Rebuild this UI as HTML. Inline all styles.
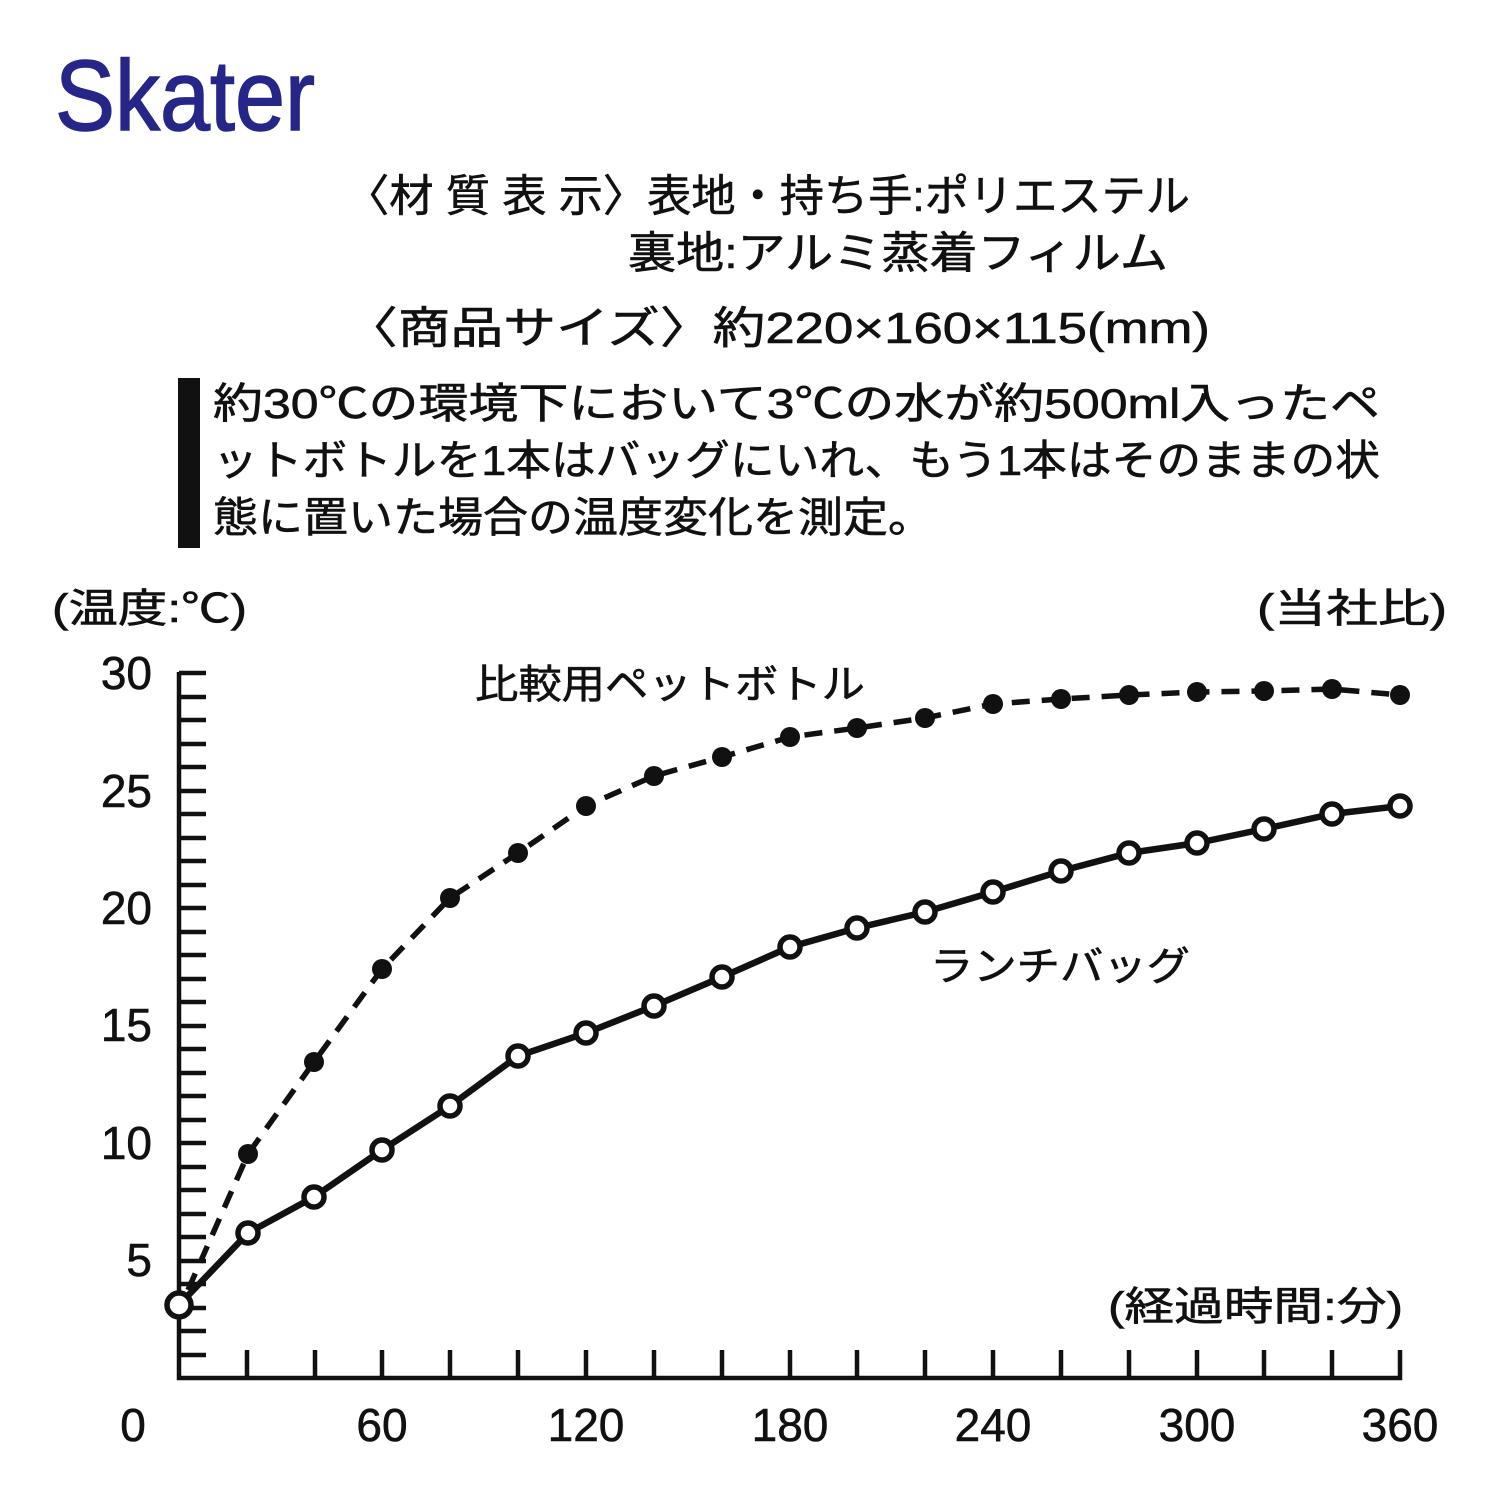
<!DOCTYPE html>
<html><head><meta charset="utf-8"><style>
html,body{margin:0;padding:0;background:#fff;}
svg{display:block;}
text{font-family:"Liberation Sans","Noto Sans CJK JP",sans-serif;fill:#111;}
</style></head><body>
<svg width="1500" height="1500" viewBox="0 0 1500 1500" xmlns="http://www.w3.org/2000/svg">
<text x="55" y="130" font-size="100" style="fill:#262688;stroke:#262688;stroke-width:1.5" textLength="260" lengthAdjust="spacingAndGlyphs">Skater</text>
<g style="stroke:#111;stroke-width:0.6">
<text x="345" y="211" font-size="44" textLength="845" lengthAdjust="spacingAndGlyphs">〈材 質 表 示〉表地・持ち手:ポリエステル</text>
<text x="628" y="268" font-size="44" textLength="540" lengthAdjust="spacingAndGlyphs">裏地:アルミ蒸着フィルム</text>
<text x="345" y="343" font-size="44" textLength="865" lengthAdjust="spacingAndGlyphs">〈商品サイズ〉約220×160×115(mm)</text>
<text x="213" y="418" font-size="42" textLength="1167" lengthAdjust="spacingAndGlyphs">約30℃の環境下において3℃の水が約500ml入ったペ</text>
<text x="213" y="475" font-size="42" textLength="1167" lengthAdjust="spacingAndGlyphs">ットボトルを1本はバッグにいれ、もう1本はそのままの状</text>
<text x="213" y="532" font-size="42" textLength="720" lengthAdjust="spacingAndGlyphs">態に置いた場合の温度変化を測定。</text>
<text x="52" y="622" font-size="40" textLength="195" lengthAdjust="spacingAndGlyphs">(温度:℃)</text>
<text x="1257" y="622" font-size="40" textLength="190" lengthAdjust="spacingAndGlyphs">(当社比)</text>
<text x="1108" y="1320" font-size="40" textLength="295" lengthAdjust="spacingAndGlyphs">(経過時間:分)</text>
<text x="475" y="698" font-size="40" textLength="390" lengthAdjust="spacingAndGlyphs">比較用ペットボトル</text>
<text x="930" y="980" font-size="40" textLength="260" lengthAdjust="spacingAndGlyphs">ランチバッグ</text>
</g>
<rect x="178" y="378" width="22" height="170" fill="#111"/>
<g font-size="46" text-anchor="end" style="stroke:#111;stroke-width:0.6">
<text x="152" y="689">30</text><text x="152" y="807">25</text><text x="152" y="924">20</text>
<text x="152" y="1041">15</text><text x="152" y="1159">10</text><text x="152" y="1276">5</text>
</g>
<g font-size="46" text-anchor="middle" style="stroke:#111;stroke-width:0.6">
<text x="133" y="1441">0</text><text x="382" y="1441">60</text><text x="586" y="1441">120</text>
<text x="790" y="1441">180</text><text x="993" y="1441">240</text><text x="1197" y="1441">300</text><text x="1400" y="1441">360</text>
</g>
<g stroke="#111" stroke-width="4.5" fill="none">
<path d="M179,672 V1378 H1400 V1350"/>
<path d="M179,673h27M179,697h27M179,720h27M179,744h27M179,767h27M179,791h27M179,814h27M179,838h27M179,861h27M179,885h27M179,908h27M179,932h27M179,955h27M179,979h27M179,1002h27M179,1026h27M179,1049h27M179,1073h27M179,1096h27M179,1120h27M179,1143h27M179,1167h27M179,1190h27M179,1214h27M179,1237h27M179,1261h27M179,1284h27M179,1308h27M179,1331h27M179,1355h27"/>
<path d="M247,1378v-28M315,1378v-28M382,1378v-28M450,1378v-28M518,1378v-28M586,1378v-28M654,1378v-28M722,1378v-28M790,1378v-28M857,1378v-28M925,1378v-28M993,1378v-28M1061,1378v-28M1129,1378v-28M1197,1378v-28M1264,1378v-28M1332,1378v-28"/>
</g>
<polyline fill="none" stroke="#111" stroke-width="5.5" stroke-dasharray="18,12" points="188,1290 248,1154 314,1062 382,969 450,898 518,853 586,806 654,776 722,757 790,737 857,728 925,718 993,704 1061,699 1129,695 1197,692 1264,691 1332,689 1400,695"/>
<g fill="#111">
<circle cx="248" cy="1154" r="10"/><circle cx="314" cy="1062" r="10"/><circle cx="382" cy="969" r="10"/><circle cx="450" cy="898" r="10"/><circle cx="518" cy="853" r="10"/><circle cx="586" cy="806" r="10"/><circle cx="654" cy="776" r="10"/><circle cx="722" cy="757" r="10"/><circle cx="790" cy="737" r="10"/><circle cx="857" cy="728" r="10"/><circle cx="925" cy="718" r="10"/><circle cx="993" cy="704" r="10"/><circle cx="1061" cy="699" r="10"/><circle cx="1129" cy="695" r="10"/><circle cx="1197" cy="692" r="10"/><circle cx="1264" cy="691" r="10"/><circle cx="1332" cy="689" r="10"/><circle cx="1400" cy="695" r="10"/>
</g>
<polyline fill="none" stroke="#111" stroke-width="6.5" points="179,1305 248,1233 314,1197 382,1150 450,1106 518,1056 586,1033 654,1006 722,977 790,947 857,928 925,912 993,892 1061,871 1129,853 1197,843 1264,829 1332,814 1400,806"/>
<g fill="#fff" stroke="#111" stroke-width="5.5">
<circle cx="179" cy="1305" r="12"/><circle cx="248" cy="1233" r="10"/><circle cx="314" cy="1197" r="10"/><circle cx="382" cy="1150" r="10"/><circle cx="450" cy="1106" r="10"/><circle cx="518" cy="1056" r="10"/><circle cx="586" cy="1033" r="10"/><circle cx="654" cy="1006" r="10"/><circle cx="722" cy="977" r="10"/><circle cx="790" cy="947" r="10"/><circle cx="857" cy="928" r="10"/><circle cx="925" cy="912" r="10"/><circle cx="993" cy="892" r="10"/><circle cx="1061" cy="871" r="10"/><circle cx="1129" cy="853" r="10"/><circle cx="1197" cy="843" r="10"/><circle cx="1264" cy="829" r="10"/><circle cx="1332" cy="814" r="10"/><circle cx="1400" cy="806" r="10"/>
</g>
</svg>
</body></html>
